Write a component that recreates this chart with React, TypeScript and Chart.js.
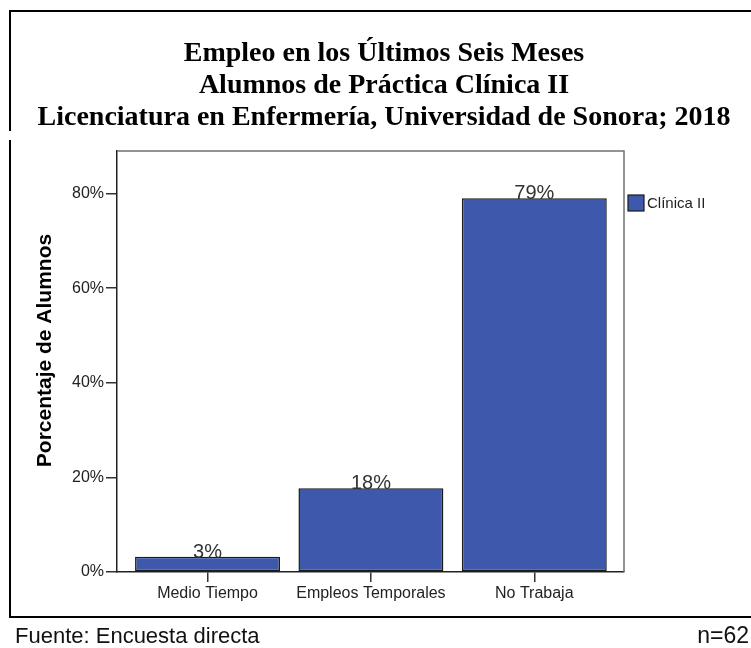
import React, { useEffect, useRef } from 'react';
import { Chart, registerables } from 'chart.js';

Chart.register(...registerables);

const titleLines = [
  'Empleo en los Últimos Seis Meses',
  'Alumnos de Práctica Clínica II',
  'Licenciatura en Enfermería, Universidad de Sonora; 2018',
];
const categories = ['Medio Tiempo', 'Empleos Temporales', 'No Trabaja'];
const percentages = [3.2, 17.7, 79.0];
const seriesLabel = 'Clínica II';
const yTickValues = [0, 20, 40, 60, 80];
const yAxisTitle = 'Porcentaje de Alumnos';
const sourceNote = 'Fuente: Encuesta directa';
const sampleNote = 'n=62';

const BAR_FILL = '#3E58AC';
const BAR_EDGE = '#1a1a1a';
const SANS = '"Liberation Sans", Arial, sans-serif';
const SERIF = '"Liberation Serif", "Times New Roman", serif';

const decorPlugin = {
  id: 'decor',
  beforeDraw(chart: any) {
    const ctx = chart.ctx;
    ctx.save();
    ctx.fillStyle = '#ffffff';
    ctx.fillRect(0, 0, chart.width, chart.height);
    ctx.restore();
  },
  afterDatasetsDraw(chart: any) {
    const ctx = chart.ctx;
    const meta = chart.getDatasetMeta(0);
    ctx.save();
    ctx.font = `20px ${SANS}`;
    ctx.fillStyle = '#333333';
    ctx.textAlign = 'center';
    ctx.textBaseline = 'alphabetic';
    meta.data.forEach((bar: any, i: number) => {
      ctx.fillText(`${Math.round(percentages[i])}%`, bar.x, bar.y + 1);
    });
    ctx.restore();
  },
  afterDraw(chart: any) {
    const ctx = chart.ctx;
    const a = chart.chartArea;
    ctx.save();

    // plot box top & right edges
    ctx.strokeStyle = '#707070';
    ctx.lineWidth = 1.5;
    ctx.beginPath();
    ctx.moveTo(a.left, a.top);
    ctx.lineTo(a.right, a.top);
    ctx.lineTo(a.right, a.bottom);
    ctx.stroke();

    // outer frame
    ctx.strokeStyle = '#000000';
    ctx.lineWidth = 2;
    ctx.beginPath();
    ctx.moveTo(chart.width, 11);
    ctx.lineTo(10, 11);
    ctx.lineTo(10, 131);
    ctx.moveTo(10, 140);
    ctx.lineTo(10, 617);
    ctx.lineTo(chart.width, 617);
    ctx.stroke();

    // title
    ctx.fillStyle = '#000000';
    ctx.font = `bold 28px ${SERIF}`;
    ctx.textAlign = 'center';
    ctx.textBaseline = 'alphabetic';
    titleLines.forEach((t, i) => ctx.fillText(t, 384, 61 + i * 32));

    // y axis title
    ctx.save();
    ctx.translate(51, (a.top + a.bottom) / 2 - 11);
    ctx.rotate(-Math.PI / 2);
    ctx.font = `bold 21px ${SANS}`;
    ctx.textAlign = 'center';
    ctx.textBaseline = 'alphabetic';
    ctx.fillText(yAxisTitle, 0, 0);
    ctx.restore();

    // legend
    const lx = a.right + 4;
    const ly = a.top + 44;
    ctx.fillStyle = BAR_FILL;
    ctx.fillRect(lx, ly, 16, 16);
    ctx.strokeStyle = BAR_EDGE;
    ctx.lineWidth = 1.2;
    ctx.strokeRect(lx, ly, 16, 16);
    ctx.fillStyle = '#222222';
    ctx.font = `15px ${SANS}`;
    ctx.textAlign = 'left';
    ctx.textBaseline = 'middle';
    ctx.fillText(seriesLabel, lx + 19, ly + 9);

    // footer
    ctx.fillStyle = '#111111';
    ctx.font = `22px ${SANS}`;
    ctx.textBaseline = 'alphabetic';
    ctx.textAlign = 'left';
    ctx.fillText(sourceNote, 15, 643);
    ctx.textAlign = 'right';
    ctx.font = `23px ${SANS}`;
    ctx.fillText(sampleNote, 749, 643);

    ctx.restore();
  },
};

export default function App() {
  const canvasRef = useRef<HTMLCanvasElement | null>(null);

  useEffect(() => {
    const canvas = canvasRef.current;
    if (!canvas) return;
    const chart = new Chart(canvas, {
      type: 'bar',
      data: {
        datasets: [
          {
            label: seriesLabel,
            data: categories.map((_, i) => ({ x: i, y: percentages[i] })),
            backgroundColor: BAR_FILL,
            borderColor: BAR_EDGE,
            borderWidth: 1.5,
            borderSkipped: false,
            categoryPercentage: 1,
            barPercentage: 0.887,
          },
        ],
      },
      options: {
        responsive: false,
        devicePixelRatio: 1,
        animation: false,
        layout: { padding: { left: 0, top: 151, right: 127, bottom: 0 } },
        plugins: {
          legend: { display: false },
          title: { display: false },
          tooltip: { enabled: false },
        },
        scales: {
          x: {
            type: 'linear',
            offset: false,
            min: -0.554,
            max: 2.549,
            afterBuildTicks: (scale: any) => {
              scale.ticks = categories.map((_, i) => ({ value: i }));
            },
            afterFit: (scale: any) => {
              scale.height = 76;
            },
            ticks: {
              autoSkip: false,
              maxRotation: 0,
              padding: 2,
              color: '#222222',
              font: { family: SANS, size: 16 },
              callback: (v: any) => categories[Number(v)] ?? '',
            },
            grid: {
              display: true,
              offset: false,
              drawOnChartArea: false,
              drawTicks: true,
              tickLength: 10,
              color: '#333333',
              lineWidth: 1.5,
            },
            border: { display: true, color: '#222222', width: 1.5 },
          },
          y: {
            type: 'linear',
            min: 0,
            max: 89,
            afterBuildTicks: (scale: any) => {
              scale.ticks = yTickValues.map((v) => ({ value: v }));
            },
            afterFit: (scale: any) => {
              scale.width = 117;
            },
            ticks: {
              padding: 2,
              color: '#222222',
              font: { family: SANS, size: 16 },
              callback: (v: any) => `${v}%`,
            },
            grid: {
              display: true,
              drawOnChartArea: false,
              drawTicks: true,
              tickLength: 11,
              color: '#333333',
              lineWidth: 1.5,
            },
            border: { display: true, color: '#222222', width: 1.5 },
          },
        },
      },
      plugins: [decorPlugin],
    } as any);
    return () => chart.destroy();
  }, []);

  return (
    <div style={{ position: 'absolute', left: 0, top: 0, width: 751, height: 648 }}>
      <canvas ref={canvasRef} width={751} height={648} style={{ display: 'block' }} />
    </div>
  );
}
